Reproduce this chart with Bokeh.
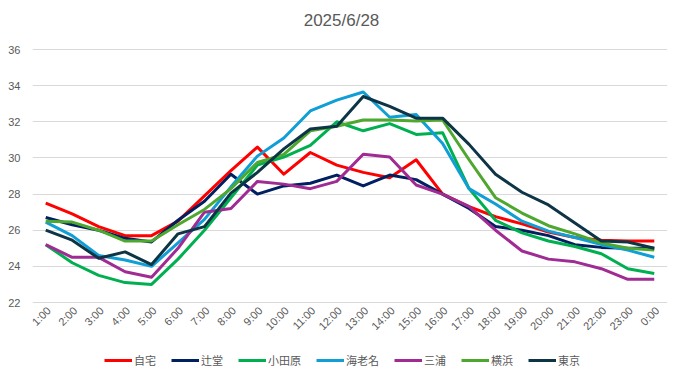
import math
from bokeh.plotting import figure
from bokeh.models import Legend, LegendItem, FactorRange, Range1d, FixedTicker, Label
from bokeh.core.properties import value
from bokeh.embed import file_html
from bokeh.resources import INLINE

title_text = "2025/6/28"

hours = ["1:00", "2:00", "3:00", "4:00", "5:00", "6:00", "7:00", "8:00", "9:00", "10:00",
         "11:00", "12:00", "13:00", "14:00", "15:00", "16:00", "17:00", "18:00", "19:00",
         "20:00", "21:00", "22:00", "23:00", "0:00"]

jitaku = [27.5, 26.9, 26.2, 25.7, 25.7, 26.5, 27.9, 29.3, 30.6, 29.1, 30.3, 29.6,
          29.2, 28.9, 29.9, 28.0, 27.3, 26.75, 26.35, 25.9, 25.6, 25.45, 25.4, 25.4]
tsujido = [26.7, 26.3, 26.0, 25.55, 25.35, 26.55, 27.6, 29.1, 28.0, 28.45, 28.6, 29.05,
           28.45, 29.05, 28.8, 28.0, 27.2, 26.2, 26.0, 25.7, 25.2, 25.05, 25.0, 25.0]
odawara = [25.2, 24.2, 23.5, 23.1, 23.0, 24.4, 26.0, 27.8, 29.6, 30.05, 30.7, 32.0,
           31.5, 31.9, 31.3, 31.4, 28.3, 26.55, 25.85, 25.4, 25.1, 24.7, 23.87, 23.6]
ebina = [26.45, 25.7, 24.6, 24.35, 24.0, 25.3, 26.6, 28.4, 30.1, 31.1, 32.6, 33.2,
         33.65, 32.25, 32.4, 30.8, 28.3, 27.45, 26.5, 25.95, 25.6, 25.2, 24.9, 24.5]
miura = [25.2, 24.5, 24.5, 23.7, 23.4, 25.0, 27.0, 27.2, 28.7, 28.55, 28.3, 28.7,
         30.2, 30.05, 28.5, 28.0, 27.3, 26.0, 24.85, 24.4, 24.25, 23.87, 23.28, 23.28]
yokohama = [26.5, 26.45, 26.0, 25.4, 25.4, 26.3, 27.15, 28.3, 29.75, 30.2, 31.5, 31.75,
            32.1, 32.1, 32.05, 32.1, 29.9, 27.8, 26.95, 26.25, 25.8, 25.3, 25.0, 24.9]
tokyo = [26.0, 25.45, 24.45, 24.8, 24.1, 25.8, 26.2, 28.05, 29.2, 30.5, 31.6, 31.75,
         33.4, 32.85, 32.2, 32.2, 30.75, 29.1, 28.1, 27.4, 26.4, 25.4, 25.35, 25.0]

series_names = ["自宅", "辻堂", "小田原", "海老名", "三浦", "横浜", "東京"]
series_values = [jitaku, tsujido, odawara, ebina, miura, yokohama, tokyo]
series_colors = ["#FF0000", "#002060", "#00B050", "#0F9ED5", "#A02B93", "#4EA72E", "#0E3546"]

y_ticks = [22, 24, 26, 28, 30, 32, 34, 36]
y_max_tick = 36
y_min_tick = 22

# 22..36 spans 253 px; the frame is extended up (title) and down (hour labels, legend)
px_per_unit = 253 / (y_max_tick - y_min_tick)
frame_h = 371
top_space = 49
y_top = y_max_tick + top_space / px_per_unit
y_bottom = y_top - frame_h / px_per_unit

p = figure(frame_width=635, frame_height=frame_h, output_backend="svg", toolbar_location=None,
           x_range=FactorRange(*hours, range_padding=0), y_range=Range1d(y_bottom, y_top),
           x_axis_location=None,
           min_border_left=32, min_border_right=6, min_border_top=0, min_border_bottom=0)
p.outline_line_color = None
p.background_fill_color = "white"
p.border_fill_color = "white"

p.yaxis.ticker = FixedTicker(ticks=y_ticks)
p.yaxis.axis_line_color = None
p.yaxis.major_tick_line_color = None
p.yaxis.minor_tick_line_color = None
p.yaxis.major_tick_out = 0
p.yaxis.major_label_standoff = 12
p.yaxis.major_label_text_font = "Liberation Sans"
p.yaxis.major_label_text_font_size = "11px"
p.yaxis.major_label_text_color = "#595959"

p.xgrid.grid_line_color = None
p.ygrid.grid_line_color = "#D9D9D9"
p.ygrid.grid_line_width = 1

items = []
for name, vals, col in zip(series_names, series_values, series_colors):
    r = p.line(hours, vals, line_color=col, line_width=3, line_join="round")
    items.append(LegendItem(label=name, renderers=[r]))

# hour labels under the 22 gridline, rotated like category tick labels
label_y = y_min_tick - 6 / px_per_unit
p.text(x=hours, y=[label_y] * len(hours), text=hours, angle=math.pi / 4,
       text_align="right", text_baseline="middle", x_offset=3,
       text_font=value("Liberation Sans"), text_font_size="11px", text_color="#595959")

title = Label(x=309, y=frame_h - 20, x_units="screen", y_units="screen", text=title_text,
              text_align="center", text_baseline="middle", text_font="Liberation Sans",
              text_font_size="17px", text_color="#595959")
p.add_layout(title)

legend = Legend(items=items, orientation="horizontal", location=(72, 3),
                glyph_width=28, glyph_height=12, label_height=12, label_standoff=2, spacing=15,
                label_text_font="Noto Sans CJK JP", label_text_font_size="11px",
                label_text_color="#595959", border_line_color=None,
                background_fill_alpha=0, padding=0, margin=0)
p.add_layout(legend)

open("out.html", "w").write(file_html(p, INLINE))
